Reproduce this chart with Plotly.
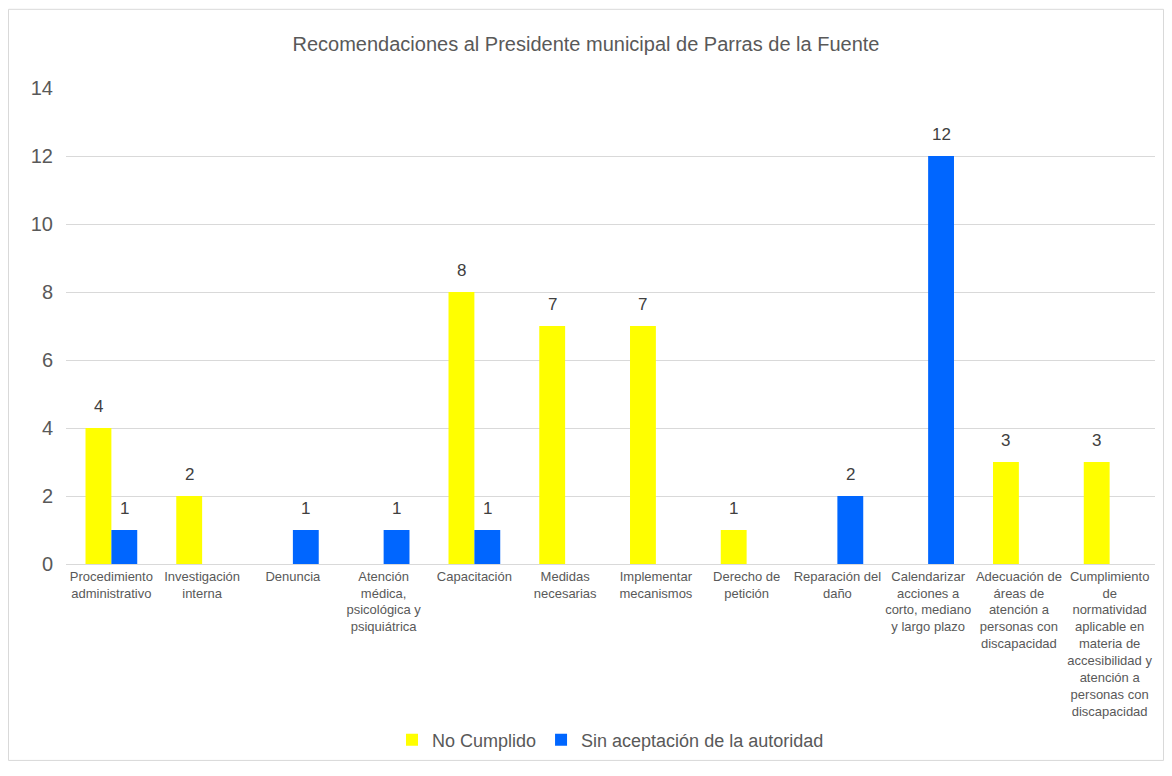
import plotly.graph_objects as go

categories = [
    "Procedimiento<br>administrativo",
    "Investigación<br>interna",
    "Denuncia",
    "Atención<br>médica,<br>psicológica y<br>psiquiátrica",
    "Capacitación",
    "Medidas<br>necesarias",
    "Implementar<br>mecanismos",
    "Derecho de<br>petición",
    "Reparación del<br>daño",
    "Calendarizar<br>acciones a<br>corto, mediano<br>y largo plazo",
    "Adecuación de<br>áreas de<br>atención a<br>personas con<br>discapacidad",
    "Cumplimiento<br>de<br>normatividad<br>aplicable en<br>materia de<br>accesibilidad y<br>atención a<br>personas con<br>discapacidad",
]
no_cumplido = [4, 2, None, None, 8, 7, 7, 1, None, None, 3, 3]
sin_aceptacion = [1, None, 1, 1, 1, None, None, None, 2, 12, None, None]
y_ticks = [0, 2, 4, 6, 8, 10, 12, 14]

# page body has an 8px margin; figure sized to fit the window
W, H = 1156, 760
L, R, T, B = 58, 9, 80, 199
pw, ph = W - L - R, H - T - B

font = "Liberation Sans, Arial, sans-serif"
grey = "#595959"
label_grey = "#404040"

fig = go.Figure()
fig.add_trace(go.Bar(
    x=categories, y=no_cumplido, name="No Cumplido",
    marker=dict(color="#FFFF00", line=dict(width=0)),
))
fig.add_trace(go.Bar(
    x=categories, y=sin_aceptacion, name="Sin aceptación de la autoridad",
    marker=dict(color="#0066FF", line=dict(width=0)),
))

bargap = 0.43
bar_px = (1 - bargap) / 2 * pw / len(categories)

annotations = []
for series, sign in ((no_cumplido, -1), (sin_aceptacion, 1)):
    for cat, val in zip(categories, series):
        if val is None:
            continue
        annotations.append(dict(
            x=cat, y=val, xref="x", yref="y", text=str(val), showarrow=False,
            xshift=sign * bar_px / 2, yshift=22, yanchor="middle",
            font=dict(size=17, color=label_grey, family=font),
        ))

def px_x(x):
    return (x - L) / pw

def px_y(y):
    return (H - B - y) / ph

fig.update_layout(
    width=W, height=H,
    margin=dict(l=L, r=R, t=T, b=B),
    paper_bgcolor="white", plot_bgcolor="white",
    font=dict(family=font, color=grey),
    barmode="group", bargap=bargap, bargroupgap=0,
    title=dict(text="Recomendaciones al Presidente municipal de Parras de la Fuente",
               x=0.5, xanchor="center", y=1 - 36 / H, yanchor="middle",
               font=dict(size=20, color=grey, family=font)),
    xaxis=dict(showgrid=False, showline=True, linecolor="#d9d9d9", linewidth=1,
               tickfont=dict(size=13, color=grey, family=font), ticks=""),
    yaxis=dict(range=[0, 14], tickvals=y_ticks, showgrid=True, gridcolor="#d9d9d9",
               gridwidth=1, zeroline=False, showline=False,
               tickfont=dict(size=20, color=grey, family=font), ticklabelstandoff=12),
    legend=dict(orientation="h", x=0.5, xanchor="center", y=px_y(739), yanchor="middle",
                font=dict(size=18, color=grey, family=font), itemwidth=30,
                traceorder="normal"),
    showlegend=True,
    annotations=annotations,
    shapes=[dict(type="rect", xref="paper", yref="paper",
                 x0=px_x(0.5), x1=px_x(W - 0.5), y0=px_y(H - 0.5), y1=px_y(0.5),
                 line=dict(color="#d9d9d9", width=1), layer="below")],
)

fig.write_html("out.html")
